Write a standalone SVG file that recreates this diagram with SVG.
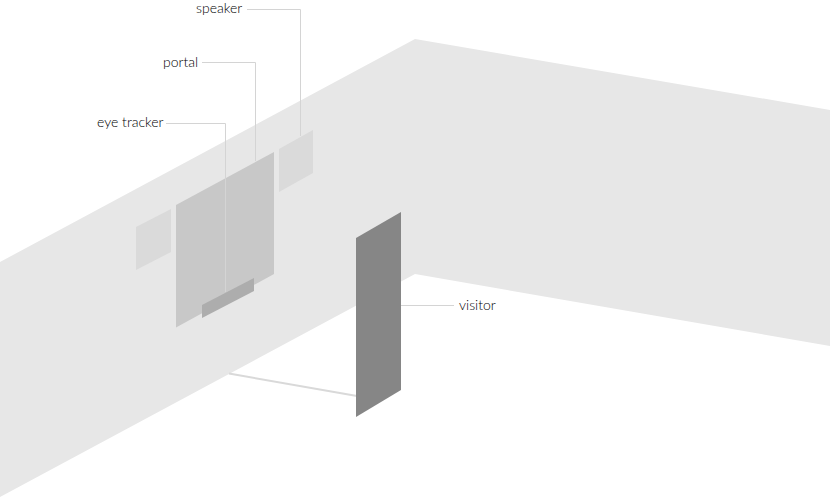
<svg xmlns="http://www.w3.org/2000/svg" width="830" height="497" viewBox="0 0 830 497">
<style>
.lead{fill:none;stroke:#d4d4d4;stroke-width:1}
text{font-family:"Lato","Open Sans","Liberation Sans",sans-serif;font-size:14px;font-weight:300;fill:#000}
</style>
<rect width="830" height="497" fill="#fff"/>
<g id="wall"><polygon points="0,262 415,39 830,110 830,346 415,274 0,497" fill="#e7e7e7"/></g>
<g id="speaker-left"><polygon points="136,227 171,209 171,252 136,270" fill="#dadada"/></g>
<g id="speaker-right"><polygon points="279,149 313,130 313,173 279,192" fill="#dadada"/></g>
<g id="portal"><polygon points="176,205 274,152 274,274 176,327.500" fill="#c8c8c8"/></g>
<g id="connectors">
<polyline class="lead" points="247,9.500 300.500,9.500 300.500,136"/>
<polyline class="lead" points="202,62.500 255.500,62.500 255.500,161"/>
<polyline class="lead" points="166,123.500 225.500,123.500 225.500,292"/>
<line class="lead" x1="401" y1="305.500" x2="454" y2="305.500"/>
<line x1="229" y1="373.500" x2="357" y2="396" stroke="#d9d9d9" stroke-width="2"/>
</g>
<g id="eye-tracker"><polygon points="202,305 254,278 254,291 202,318" fill="#adadad"/></g>
<g id="visitor"><polygon points="356,238 401,212 401,390 356,417" fill="#868686"/></g>
<g id="labels">
<text x="196" y="13">speaker</text>
<text x="163" y="67">portal</text>
<text x="97" y="127">eye tracker</text>
<text x="459" y="310">visitor</text>
</g>
</svg>
